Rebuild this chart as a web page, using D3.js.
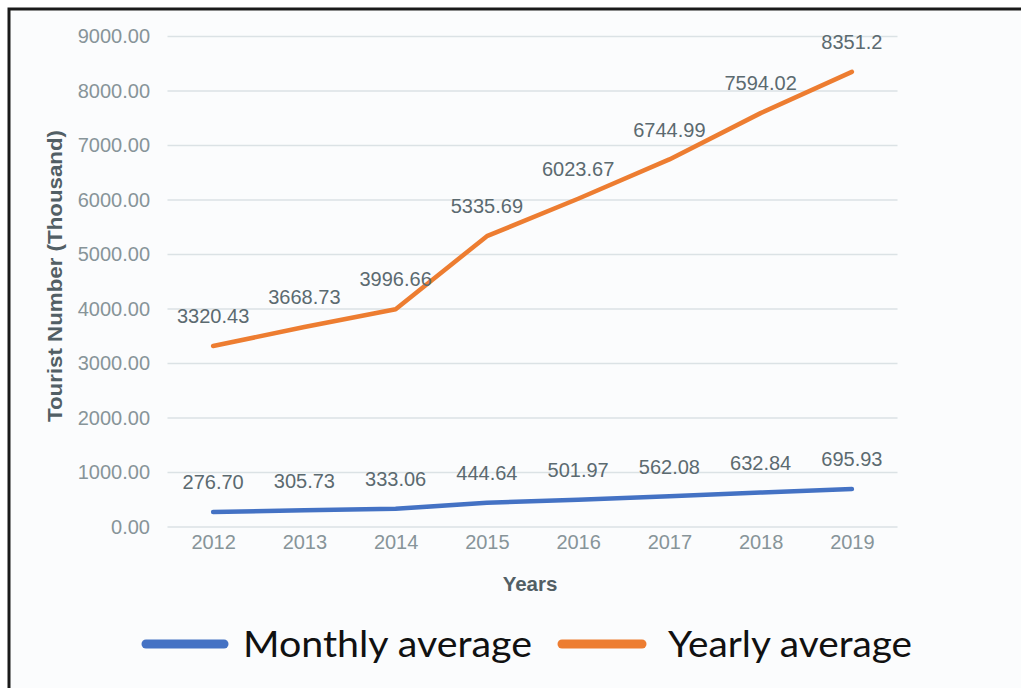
<!DOCTYPE html>
<html>
<head>
<meta charset="utf-8">
<script src="https://cdn.jsdelivr.net/npm/d3@7"></script>
<style>
  html, body { margin: 0; padding: 0; background: #ffffff; }
  svg { display: block; }
</style>
</head>
<body>
<svg id="chart" width="1021" height="688"></svg>
<script>
// Tourist numbers (thousand) per year
const years = ["2012", "2013", "2014", "2015", "2016", "2017", "2018", "2019"];
const monthlyAverage = [276.70, 305.73, 333.06, 444.64, 501.97, 562.08, 632.84, 695.93];
const yearlyAverage = [3320.43, 3668.73, 3996.66, 5335.69, 6023.67, 6744.99, 7594.02, 8351.2];
const monthlyLabels = ["276.70", "305.73", "333.06", "444.64", "501.97", "562.08", "632.84", "695.93"];
const yearlyLabels = ["3320.43", "3668.73", "3996.66", "5335.69", "6023.67", "6744.99", "7594.02", "8351.2"];
const yTicks = [0, 1000, 2000, 3000, 4000, 5000, 6000, 7000, 8000, 9000];
const seriesNames = ["Monthly average", "Yearly average"];
const seriesColors = ["#4472c4", "#ed7d31"];

const svg = d3.select("#chart");
const baseFont = "'Liberation Sans', Arial, sans-serif";

// frame
svg.append("rect")
  .attr("x", 9).attr("y", 9)
  .attr("width", 1030).attr("height", 700)
  .attr("fill", "#fbfcfd")
  .attr("stroke", "#1a1a1a")
  .attr("stroke-width", 3);

const x = d3.scalePoint().domain(years).range([167.5, 897.5]).padding(0.5);
const y = d3.scaleLinear().domain([0, 9000]).range([527, 36.5]);

// horizontal gridlines
svg.append("g")
  .selectAll("line")
  .data(yTicks)
  .join("line")
  .attr("x1", 167.5).attr("x2", 897.5)
  .attr("y1", d => y(d)).attr("y2", d => y(d))
  .attr("stroke", "#dbe2e5")
  .attr("stroke-width", 1.5);

// y axis labels
const yAxis = d3.axisLeft(y).tickValues(yTicks).tickSize(0).tickPadding(0)
  .tickFormat(d => d3.format(".2f")(d));
svg.append("g")
  .attr("transform", "translate(150,0)")
  .call(yAxis)
  .call(g => g.select(".domain").remove())
  .call(g => g.selectAll("text")
    .attr("fill", "#879499")
    .style("font-family", baseFont)
    .style("font-size", "20px"));

// x axis labels
const xAxis = d3.axisBottom(x).tickSize(0).tickPadding(0);
svg.append("g")
  .attr("transform", "translate(0,535)")
  .call(xAxis)
  .call(g => g.select(".domain").remove())
  .call(g => g.selectAll("text")
    .attr("fill", "#879499")
    .style("font-family", baseFont)
    .style("font-size", "20px"));

// axis titles
svg.append("text")
  .attr("transform", "translate(62,276) rotate(-90)")
  .attr("text-anchor", "middle")
  .attr("fill", "#525f65")
  .attr("textLength", 292)
  .attr("lengthAdjust", "spacingAndGlyphs")
  .style("font-family", baseFont)
  .style("font-weight", "bold")
  .style("font-size", "21px")
  .text("Tourist Number (Thousand)");

svg.append("text")
  .attr("x", 530).attr("y", 591)
  .attr("text-anchor", "middle")
  .attr("fill", "#525f65")
  .style("font-family", baseFont)
  .style("font-weight", "bold")
  .style("font-size", "20.5px")
  .text("Years");

// lines
const line = d3.line()
  .x(d => x(d.year))
  .y(d => y(d.value));

const series = [
  { values: monthlyAverage, labels: monthlyLabels, color: seriesColors[0] },
  { values: yearlyAverage, labels: yearlyLabels, color: seriesColors[1] }
];

series.forEach(s => {
  const pts = years.map((yr, i) => ({ year: yr, value: s.values[i], label: s.labels[i] }));
  svg.append("path")
    .datum(pts)
    .attr("d", line)
    .attr("fill", "none")
    .attr("stroke", s.color)
    .attr("stroke-width", 4.5)
    .attr("stroke-linejoin", "round")
    .attr("stroke-linecap", "round");

  svg.append("g")
    .selectAll("text")
    .data(pts)
    .join("text")
    .attr("x", d => x(d.year))
    .attr("y", d => y(d.value) - 30)
    .attr("dy", "0.36em")
    .attr("text-anchor", "middle")
    .attr("fill", "#5b6a70")
    .style("font-family", baseFont)
    .style("font-size", "20px")
    .text(d => d.label);
});

// legend
const legendItems = [
  { name: seriesNames[0], color: seriesColors[0], x1: 146, x2: 224, tx: 243, len: 289 },
  { name: seriesNames[1], color: seriesColors[1], x1: 562, x2: 642, tx: 668, len: 244 }
];
const lg = svg.append("g");
legendItems.forEach(it => {
  lg.append("line")
    .attr("x1", it.x1).attr("x2", it.x2)
    .attr("y1", 644).attr("y2", 644)
    .attr("stroke", it.color)
    .attr("stroke-width", 9)
    .attr("stroke-linecap", "round");
  lg.append("text")
    .attr("x", it.tx).attr("y", 657)
    .attr("fill", "#111111")
    .attr("textLength", it.len)
    .attr("lengthAdjust", "spacingAndGlyphs")
    .style("font-family", "Lato, 'Open Sans', sans-serif")
    .style("font-size", "37.5px")
    .text(it.name);
});
</script>
</body>
</html>
